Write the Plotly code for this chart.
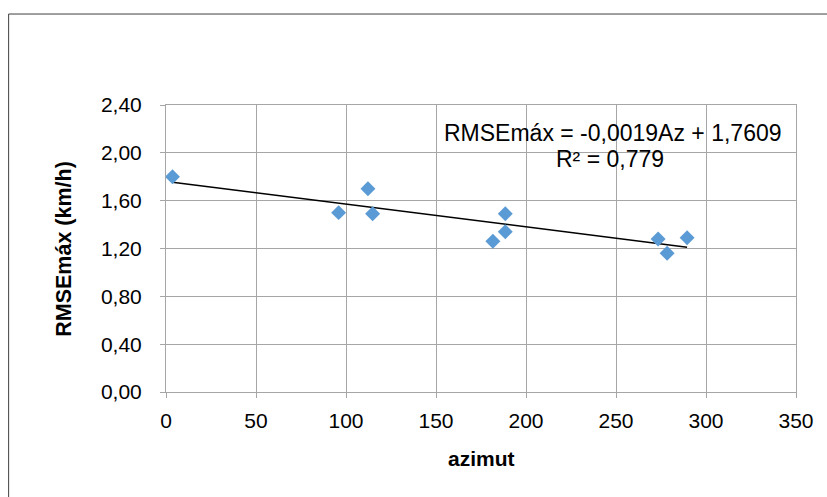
import plotly.graph_objects as go

# Azimuth (degrees) and maximum RMSE (km/h) per station
azimut = [3.6, 95.9, 112.2, 114.8, 181.6, 188.5, 188.5, 273.4, 278.4, 289.5]
rmse_max = [1.80, 1.50, 1.70, 1.49, 1.26, 1.49, 1.34, 1.28, 1.16, 1.29]

# Linear trend: RMSEmáx = slope * Az + intercept
slope = -0.0019
intercept = 1.7609
r2 = 0.779

x_ticks = [0, 50, 100, 150, 200, 250, 300, 350]
y_ticks = [0.0, 0.4, 0.8, 1.2, 1.6, 2.0, 2.4]

FONT = "Arial, 'Liberation Sans', sans-serif"
GRID = "#A6A6A6"

x_lo, x_hi = min(azimut), max(azimut)
trend_x = [x_lo, x_hi]
trend_y = [slope * v + intercept for v in trend_x]

fig = go.Figure()
fig.add_trace(go.Scatter(
    x=trend_x, y=trend_y, mode="lines",
    line=dict(color="black", width=1.5),
    hoverinfo="skip", showlegend=False,
))
fig.add_trace(go.Scatter(
    x=azimut, y=rmse_max, mode="markers",
    marker=dict(symbol="diamond", size=11.5, color="#5B9BD5"),
    showlegend=False,
))

axis_common = dict(
    showgrid=True, gridcolor=GRID, gridwidth=1,
    showline=True, linecolor=GRID, linewidth=1, mirror=True,
    ticks="outside", ticklen=5, tickcolor=GRID, tickwidth=1,
    zeroline=False,
    tickfont=dict(family=FONT, size=21, color="black"),
)

fig.update_xaxes(range=[0, 350], tickvals=x_ticks,
                 ticktext=[str(v) for v in x_ticks],
                 ticklabelstandoff=5, **axis_common)
fig.update_yaxes(range=[0, 2.4], tickvals=y_ticks,
                 ticktext=[f"{v:.2f}".replace(".", ",") for v in y_ticks],
                 ticklabelstandoff=14, **axis_common)

eq_text = f"RMSEmáx = {slope:.4f}Az + {intercept:.4f}".replace(".", ",")
r2_text = f"R² = {r2:.3f}".replace(".", ",")

annotations = [
    dict(x=248.4, y=2.17, xref="x", yref="y", text=eq_text, showarrow=False,
         xanchor="center", yanchor="middle",
         font=dict(family=FONT, size=23, color="black")),
    dict(x=246.8, y=1.95, xref="x", yref="y", text=r2_text, showarrow=False,
         xanchor="center", yanchor="middle",
         font=dict(family=FONT, size=23, color="black")),
    dict(x=0.5, y=-0.232, xref="paper", yref="paper", text="<b>azimut</b>",
         showarrow=False, xanchor="center", yanchor="middle",
         font=dict(family=FONT, size=21, color="black")),
    dict(x=-0.163, y=0.5, xref="paper", yref="paper",
         text="<b>RMSEmáx (km/h)</b>", showarrow=False, textangle=-90,
         xanchor="center", yanchor="middle",
         font=dict(family=FONT, size=21.5, color="black")),
]

fig.update_layout(
    width=827, height=497,
    margin=dict(l=165.5, r=31, t=105, b=105.3, autoexpand=False),
    paper_bgcolor="white", plot_bgcolor="white",
    font=dict(family=FONT, color="black"),
    annotations=annotations,
    shapes=[dict(type="rect", xref="paper", yref="paper",
                 x0=-0.2498, x1=1.06, y0=-0.4, y1=1.317,
                 line=dict(color="#3F3F3F", width=1), layer="below")],
)

fig.write_html("out.html", config={"displayModeBar": False})
